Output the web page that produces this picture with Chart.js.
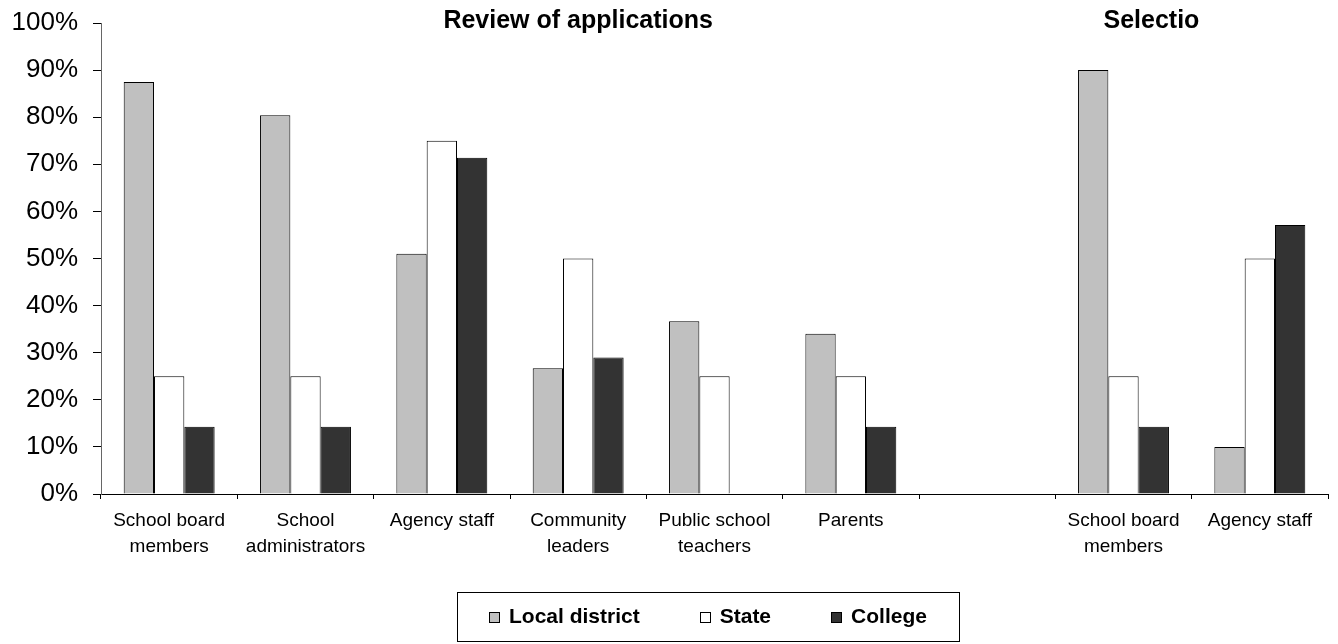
<!DOCTYPE html>
<html>
<head>
<meta charset="utf-8">
<script src="https://cdn.jsdelivr.net/npm/chart.js@4.4.1/dist/chart.umd.min.js"></script>
<style>
    html, body { margin: 0; padding: 0; background: #fff; }
    #wrap { width: 1338px; height: 644px; }
</style>
</head>
<body>
<div id="wrap"><canvas id="myBarChart" width="1338" height="644"></canvas></div>
<script>
// categories (empty slot separates the two stages)
const categories = [
    ['School board', 'members'],
    ['School', 'administrators'],
    'Agency staff',
    ['Community', 'leaders'],
    ['Public school', 'teachers'],
    'Parents',
    '',
    ['School board', 'members'],
    'Agency staff'
];

const seriesNames = ['Local district', 'State', 'College'];
const localDistrict = [87.5, 80.4, 51.0, 26.7, 36.7, 34.0, null, 90.0, 10.0];
const stateValues = [25, 25, 75, 50, 25, 25, null, 25, 50];
const collegeValues = [14.3, 14.3, 71.4, 29.0, 0, 14.3, null, 14.3, 57.1];

const yTicks = [0, 10, 20, 30, 40, 50, 60, 70, 80, 90, 100];
const stageTitles = ['Review of applications', 'Selectio'];

const fontFamily = '"Liberation Sans", Arial, sans-serif';

// stage headings over the plot
const stageTitlePlugin = {
    id: 'stageTitles',
    afterDraw(chart) {
        let ctx = chart.ctx;
        let x = chart.scales.x;
        ctx.save();
        ctx.fillStyle = '#000';
        ctx.font = 'bold 25px ' + fontFamily;
        ctx.textBaseline = 'middle';
        ctx.textAlign = 'center';
        ctx.fillText(stageTitles[0], x.getPixelForValue(3), 21);
        ctx.textAlign = 'left';
        ctx.fillText(stageTitles[1], x.getPixelForValue(7) - 20, 21);
        ctx.restore();
    }
};

// framed legend under the axis labels
const boxLegendPlugin = {
    id: 'boxLegend',
    afterDraw(chart) {
        let ctx = chart.ctx;
        let area = chart.chartArea;
        let sets = chart.data.datasets;
        let box = 11, gap = 9, spacing = 60, pad = 32;
        ctx.save();
        ctx.font = 'bold 21px ' + fontFamily;
        let widths = sets.map(ds => box + gap + ctx.measureText(ds.label).width);
        let total = widths.reduce((a, b) => a + b, 0) + spacing * (sets.length - 1);
        let left = Math.round((area.left + area.right) / 2 - total / 2 - 7);
        let top = 592, bottom = 641, mid = 617;

        ctx.strokeStyle = '#000';
        ctx.lineWidth = 1;
        ctx.strokeRect(left - pad + 0.5, top + 0.5, Math.round(total + pad * 2), bottom - top);

        let cx = left;
        sets.forEach((ds, i) => {
            ctx.fillStyle = ds.backgroundColor;
            ctx.fillRect(Math.round(cx), mid - 5, box, box);
            ctx.strokeStyle = '#000';
            ctx.strokeRect(Math.round(cx) + 0.5, mid - 5 + 0.5, box - 1, box - 1);
            ctx.fillStyle = '#000';
            ctx.textBaseline = 'middle';
            ctx.textAlign = 'left';
            ctx.fillText(ds.label, cx + box + gap, mid);
            cx += widths[i] + spacing;
        });
        ctx.restore();
    }
};

let ctx = document.getElementById('myBarChart').getContext('2d');

let myBarChart = new Chart(ctx, {
    type: 'bar',
    data: {
        labels: categories,
        datasets: [{
            label: seriesNames[0],
            data: localDistrict,
            backgroundColor: '#c0c0c0',
            borderColor: '#000',
            borderWidth: 1
        }, {
            label: seriesNames[1],
            data: stateValues,
            backgroundColor: '#ffffff',
            borderColor: '#000',
            borderWidth: 1
        }, {
            label: seriesNames[2],
            data: collegeValues,
            backgroundColor: '#333333',
            borderColor: '#000',
            borderWidth: 1
        }]
    },
    options: {
        responsive: false,
        animation: false,
        devicePixelRatio: 1,
        layout: { padding: { top: 23, right: 10, left: 0, bottom: 0 } },
        datasets: {
            bar: { categoryPercentage: 0.667, barPercentage: 1.0 }
        },
        plugins: {
            legend: { display: false },
            tooltip: { enabled: false }
        },
        scales: {
            x: {
                offset: true,
                grid: {
                    offset: true,
                    drawOnChartArea: false,
                    tickLength: 5,
                    color: '#000'
                },
                border: { color: '#000', width: 1 },
                ticks: {
                    color: '#000',
                    padding: 9,
                    maxRotation: 0,
                    autoSkip: false,
                    font: { family: fontFamily, size: 19, lineHeight: 1.37 }
                },
                afterFit(scale) { scale.height = 150; }
            },
            y: {
                min: 0,
                max: 100,
                afterBuildTicks(scale) {
                    scale.ticks = yTicks.map(v => ({ value: v }));
                },
                grid: {
                    drawOnChartArea: false,
                    tickLength: 8,
                    color: '#000'
                },
                border: { color: '#666', width: 1 },
                ticks: {
                    color: '#000',
                    padding: 15,
                    font: { family: fontFamily, size: 26 },
                    callback: v => v + '%'
                },
                afterFit(scale) {
                    // fixed gutter; top label may sit in the outer padding
                    scale.width = 101;
                    scale.paddingTop = 0;
                    scale.paddingBottom = 0;
                }
            }
        }
    },
    plugins: [stageTitlePlugin, boxLegendPlugin]
});
</script>
</body>
</html>
